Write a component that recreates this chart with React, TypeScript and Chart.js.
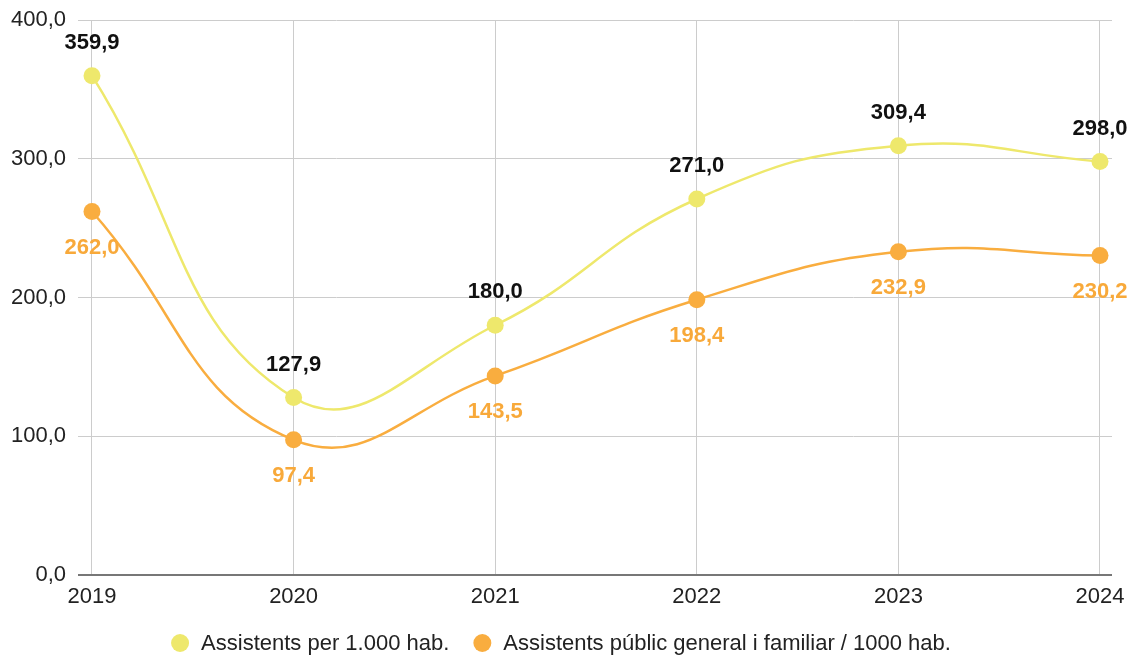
import React, { useEffect, useRef } from "react";
import { Chart, registerables } from "chart.js";

Chart.register(...registerables);

const years = [2019, 2020, 2021, 2022, 2023, 2024];
const assistents = [359.9, 127.9, 180.0, 271.0, 309.4, 298.0];
const publicGeneral = [262.0, 97.4, 143.5, 198.4, 232.9, 230.2];
const yTicks = [0, 100, 200, 300, 400];
const seriesNames = [
  "Assistents per 1.000 hab.",
  "Assistents públic general i familiar / 1000 hab.",
];

const YELLOW = "#EEE86C";
const ORANGE = "#F9AD3F";
const ORANGE_TEXT = "#F8A93A";
const FONT = "'Liberation Sans', Arial, sans-serif";

const fmt = (v: number) => v.toFixed(1).replace(".", ",");

const labelsPlugin = {
  id: "pointLabels",
  afterDatasetsDraw(chart: any) {
    const ctx = chart.ctx;
    ctx.save();
    ctx.font = `bold 22px ${FONT}`;
    ctx.textAlign = "center";
    ctx.textBaseline = "middle";
    chart.data.datasets.forEach((ds: any, i: number) => {
      const meta = chart.getDatasetMeta(i);
      meta.data.forEach((pt: any, j: number) => {
        const v = ds.data[j].y;
        if (i === 0) {
          ctx.fillStyle = "#111111";
          ctx.fillText(fmt(v), pt.x, pt.y - 33);
        } else {
          ctx.fillStyle = ORANGE_TEXT;
          ctx.fillText(fmt(v), pt.x, pt.y + 36);
        }
      });
    });
    ctx.restore();
  },
};

const legendPlugin = {
  id: "customLegend",
  afterDraw(chart: any) {
    const ctx = chart.ctx;
    ctx.save();
    ctx.font = `22px ${FONT}`;
    ctx.textBaseline = "middle";
    ctx.textAlign = "left";
    const colors = [YELLOW, ORANGE];
    const r = 9;
    const textGap = 12;
    const itemGap = 24;
    const widths = seriesNames.map((n) => ctx.measureText(n).width);
    const total =
      widths.reduce((a: number, b: number) => a + b, 0) +
      seriesNames.length * (2 * r + textGap) +
      itemGap * (seriesNames.length - 1);
    let x = (chart.width - total) / 2 - 6;
    const y = 643;
    seriesNames.forEach((name, i) => {
      ctx.fillStyle = colors[i];
      ctx.beginPath();
      ctx.arc(x + r, y, r, 0, Math.PI * 2);
      ctx.fill();
      ctx.fillStyle = "#222222";
      ctx.fillText(name, x + 2 * r + textGap, y + 1);
      x += 2 * r + textGap + widths[i] + itemGap;
    });
    ctx.restore();
  },
};

export default function App() {
  const ref = useRef<HTMLCanvasElement | null>(null);

  useEffect(() => {
    if (!ref.current) return;
    const chart = new Chart(ref.current, {
      type: "line",
      data: {
        datasets: [
          {
            label: seriesNames[0],
            data: years.map((y, i) => ({ x: y, y: assistents[i] })),
            borderColor: YELLOW,
            backgroundColor: YELLOW,
            borderWidth: 2.5,
            pointRadius: 8.5,
            pointBorderWidth: 0,
            pointHoverRadius: 8.5,
            tension: 0.45,
          },
          {
            label: seriesNames[1],
            data: years.map((y, i) => ({ x: y, y: publicGeneral[i] })),
            borderColor: ORANGE,
            backgroundColor: ORANGE,
            borderWidth: 2.5,
            pointRadius: 8.5,
            pointBorderWidth: 0,
            pointHoverRadius: 8.5,
            tension: 0.45,
          },
        ],
      },
      options: {
        animation: false,
        responsive: true,
        maintainAspectRatio: false,
        events: [],
        layout: { padding: { top: 20, right: 22, bottom: 0, left: 0 } },
        plugins: {
          legend: { display: false },
          tooltip: { enabled: false },
        },
        scales: {
          x: {
            type: "linear",
            min: 2019 - 14 / 201.6,
            max: 2024 + 12 / 201.6,
            afterBuildTicks: (axis: any) => {
              axis.ticks = years.map((v) => ({ value: v }));
            },
            afterFit: (scale: any) => {
              scale.height = 83;
              scale.paddingLeft = 0;
              scale.paddingRight = 0;
            },
            ticks: {
              callback: (v: any) => String(v),
              color: "#222222",
              font: { family: FONT, size: 22 },
              padding: 9,
              maxRotation: 0,
              autoSkip: false,
            },
            grid: { color: "#cccccc", lineWidth: 1, drawTicks: false },
            border: { display: false },
          },
          y: {
            min: 0,
            max: 400,
            afterBuildTicks: (axis: any) => {
              axis.ticks = yTicks.map((v) => ({ value: v }));
            },
            afterFit: (scale: any) => {
              scale.width = 78;
              scale.paddingTop = 0;
              scale.paddingBottom = 0;
            },
            ticks: {
              callback: (v: any) => fmt(Number(v)),
              color: "#222222",
              font: { family: FONT, size: 22 },
              padding: 12,
            },
            grid: {
              color: (c: any) => (c.tick && c.tick.value === 0 ? "#777777" : "#cccccc"),
              lineWidth: (c: any) => (c.tick && c.tick.value === 0 ? 2 : 1),
              drawTicks: false,
            },
            border: { display: false },
          },
        },
      },
      plugins: [labelsPlugin, legendPlugin],
    });
    return () => chart.destroy();
  }, []);

  return (
    <div style={{ position: "fixed", left: 0, top: 0, width: 1134, height: 658, background: "#ffffff" }}>
      <canvas ref={ref} />
    </div>
  );
}
